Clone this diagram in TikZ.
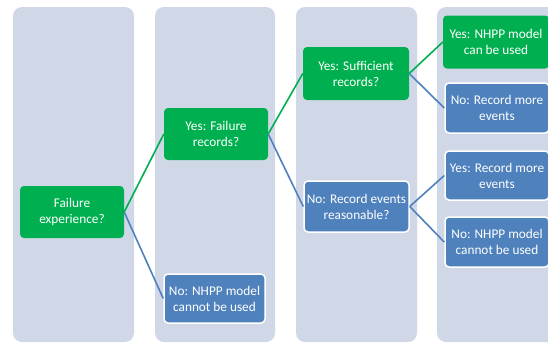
\documentclass[tikz,border=0pt]{standalone}
\usepackage{fontspec}
\setmainfont{Carlito}
\definecolor{gfill}{HTML}{00B050}
\definecolor{bfill}{HTML}{4F81BD}
\definecolor{colbg}{HTML}{D0D8E8}
\begin{document}
\begin{tikzpicture}[x=1pt,y=-1pt,
  colbox/.style={fill=colbg, draw=none, rounded corners=9pt},
  gbox/.style={fill=gfill, draw=none, rounded corners=4pt, text=white, align=center,
     inner sep=0pt, font=\fontsize{13.3}{16}\selectfont},
  bbox/.style={fill=bfill, draw=white, line width=1.5pt, rounded corners=4pt, text=white, align=center,
     inner sep=0pt, font=\fontsize{13.3}{16}\selectfont},
  gline/.style={draw=gfill, line width=1.6pt},
  bline/.style={draw=bfill, line width=1.6pt}]
\clip (0,0) rectangle (548,343);
\useasboundingbox (0,0) rectangle (548,343);
\fill[white] (0,0) rectangle (548,343);
% columns
\path[colbox] (13,7) rectangle (134,342);
\path[colbox] (155,7) rectangle (275,342);
\path[colbox] (296,7) rectangle (417,342);
\path[colbox] (437,7) rectangle (560,342);
% nodes
\node[gbox, minimum width=104pt, minimum height=52pt] (fe) at (72,212) {Failure\\experience?};
\node[gbox, minimum width=104pt, minimum height=52pt] (yfr) at (216,134) {Yes: Failure\\records?};
\node[bbox, minimum width=101pt, minimum height=49pt] (nc1) at (214.5,298.5) {No: NHPP model\\cannot be used};
\node[gbox, minimum width=106pt, minimum height=53pt] (ysr) at (356,73.5) {Yes: Sufficient\\records?};
\node[bbox, minimum width=105pt, minimum height=51pt] (nre) at (356.5,206.5) {No: Record events\\reasonable?};
\node[gbox, minimum width=106pt, minimum height=53pt] (ycu) at (496,42) {Yes: NHPP model\\can be used};
\node[bbox, minimum width=104pt, minimum height=50pt] (nrm) at (497,108) {No: Record more\\events};
\node[bbox, minimum width=104pt, minimum height=49pt] (yrm) at (497,175.5) {Yes: Record more\\events};
\node[bbox, minimum width=104pt, minimum height=50pt] (nc2) at (497,242) {No: NHPP model\\cannot be used};
% connectors
\draw[gline] (fe.east) -- (yfr.west);
\draw[bline] (fe.east) -- (nc1.west);
\draw[gline] (yfr.east) -- (ysr.west);
\draw[bline] (yfr.east) -- (nre.west);
\draw[gline] (ysr.east) -- (ycu.west);
\draw[bline] (ysr.east) -- (nrm.west);
\draw[bline] (nre.east) -- (yrm.west);
\draw[bline] (nre.east) -- (nc2.west);
\end{tikzpicture}
\end{document}
